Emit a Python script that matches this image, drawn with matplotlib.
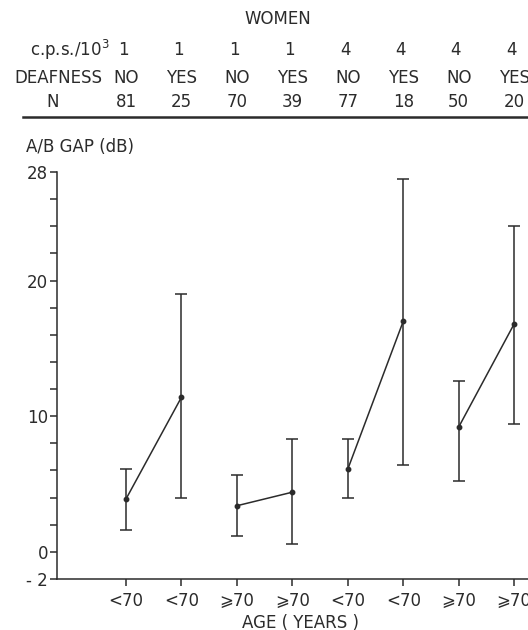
import matplotlib
matplotlib.use("Agg")
import matplotlib.pyplot as plt
import matplotlib.transforms as mtransforms
import numpy as np

# Group descriptors
freq = ["1", "1", "1", "1", "4", "4", "4", "4"]
deafness = ["NO", "YES", "NO", "YES", "NO", "YES", "NO", "YES"]
n_subjects = ["81", "25", "70", "39", "77", "18", "50", "20"]
age_labels = ["<70", "<70", "⩾70", "⩾70", "<70", "<70", "⩾70", "⩾70"]

# A/B gap (dB): mean with lower / upper limits
gap_mean = [3.9, 11.4, 3.4, 4.4, 6.1, 17.0, 9.2, 16.8]
gap_low = [1.6, 4.0, 1.2, 0.6, 4.0, 6.4, 5.2, 9.4]
gap_high = [6.1, 19.0, 5.7, 8.3, 8.3, 27.5, 12.6, 24.0]

ink = "#2b2b2b"
plt.rcParams["font.family"] = ["DejaVu Sans", "Noto Sans"]
plt.rcParams["text.color"] = ink

W, H = 528, 630
fig = plt.figure(figsize=(W / 100, H / 100), dpi=100)
ax = fig.add_axes([57 / W, 51 / H, 1 - 57 / W, (579 - 172) / H])

x = np.arange(len(gap_mean))
mean = np.array(gap_mean)
yerr = np.vstack([mean - np.array(gap_low), np.array(gap_high) - mean])

# Lines joining each NO / YES pair
for i in range(0, len(x), 2):
    ax.plot(x[i:i + 2], mean[i:i + 2], color=ink, lw=1.1, zorder=3)

ax.errorbar(x, mean, yerr=yerr, fmt="o", color=ink, ms=3.2, ecolor=ink,
            elinewidth=1.1, capsize=4.2, capthick=1.1, zorder=4)

ax.set_xlim(-1.245, 7.25)
ax.set_ylim(-2, 28)
for s in ["top", "right"]:
    ax.spines[s].set_visible(False)
for s in ["left", "bottom"]:
    ax.spines[s].set_linewidth(1.1)
    ax.spines[s].set_color(ink)

yt = list(range(-2, 29, 2))
ylab = {28: "28", 20: "20", 10: "10", 0: "0", -2: "- 2"}
ax.set_yticks(yt)
ax.set_yticklabels([ylab.get(v, "") for v in yt], fontsize=12)
ax.tick_params(axis="y", length=5, width=1.1, color=ink, pad=1.5, labelcolor=ink)
ax.set_xticks(x)
ax.set_xticklabels(age_labels, fontsize=12)
ax.tick_params(axis="x", length=5, width=1.1, color=ink, pad=4, labelcolor=ink)

ax.text(26 / W, 1 - 147 / H, "A/B GAP (dB)", transform=fig.transFigure,
        fontsize=12, ha="left", va="center")
fig.text(300 / W, 1 - 623 / H, "AGE ( YEARS )", fontsize=12, ha="center", va="center")

# Header table above the plot
tr = mtransforms.blended_transform_factory(ax.transData, fig.transFigure)
fig.text(278 / W, 1 - 19 / H, "WOMEN", fontsize=12, ha="center", va="center")
fig.text(110 / W, 1 - 50 / H, "c.p.s./10$^{3}$", fontsize=12, ha="right", va="center")
fig.text(102 / W, 1 - 78 / H, "DEAFNESS", fontsize=12, ha="right", va="center")
fig.text(53 / W, 1 - 102 / H, "N", fontsize=12, ha="center", va="center")
for xi, f, d, n in zip(x, freq, deafness, n_subjects):
    ax.text(xi - 0.05, 1 - 50 / H, f, transform=tr, fontsize=12, ha="center", va="center")
    ax.text(xi, 1 - 78 / H, d, transform=tr, fontsize=12, ha="center", va="center")
    ax.text(xi, 1 - 102 / H, n, transform=tr, fontsize=12, ha="center", va="center")

fig.add_artist(plt.Line2D([23 / W, 1.0], [1 - 117 / H, 1 - 117 / H],
                          transform=fig.transFigure, color=ink, lw=1.8))

fig.savefig("out.png", dpi=100, facecolor="white")
